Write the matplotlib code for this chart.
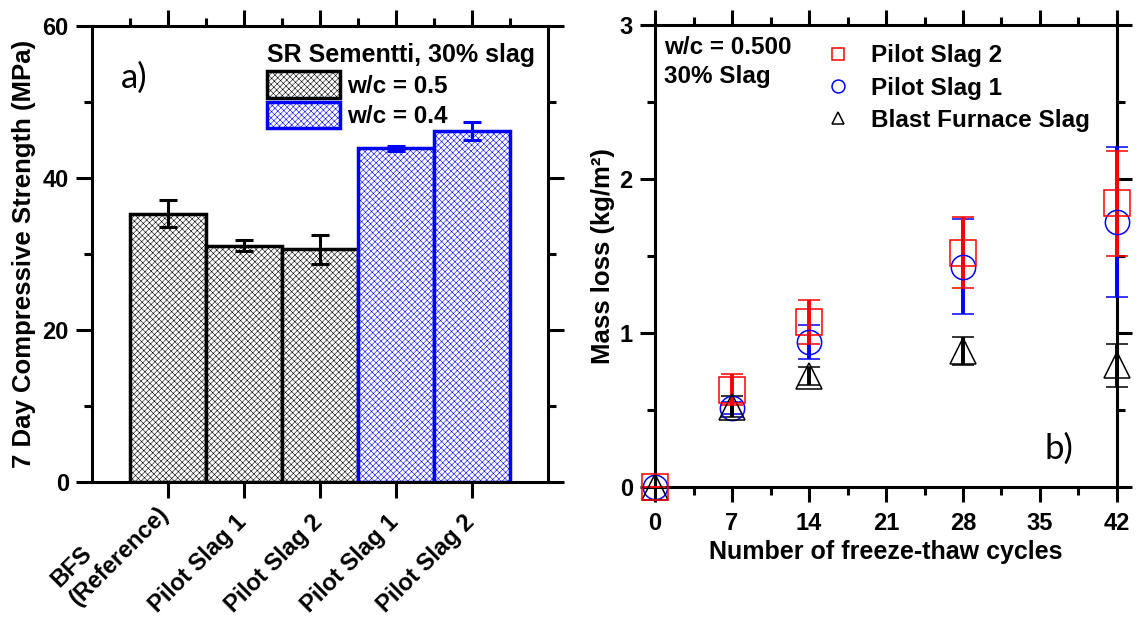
import matplotlib
matplotlib.use("Agg")
import matplotlib.pyplot as plt
import numpy as np
from matplotlib.patches import Patch
from matplotlib.lines import Line2D
from matplotlib.transforms import ScaledTranslation

plt.rcParams["font.family"] = ["Liberation Sans", "DejaVu Sans"]
plt.rcParams["font.weight"] = "bold"
plt.rcParams["axes.labelweight"] = "bold"
plt.rcParams["hatch.linewidth"] = 0.4

# ---- panel a) data ----
bar_labels = ["BFS\n(Reference)", "Pilot Slag 1", "Pilot Slag 2", "Pilot Slag 1", "Pilot Slag 2"]
strength = [35.3, 31.1, 30.6, 43.9, 46.2]
strength_err = [1.8, 0.7, 1.9, 0.3, 1.2]
wc_group = ["0.5", "0.5", "0.5", "0.4", "0.4"]

# ---- panel b) data ----
cycles = [0, 7, 14, 28, 42]
slag2_loss = [0.0, 0.63, 1.07, 1.52, 1.84]
slag2_err = [0.0, 0.10, 0.14, 0.23, 0.34]
slag1_loss = [0.0, 0.51, 0.94, 1.43, 1.72]
slag1_err = [0.0, 0.04, 0.11, 0.31, 0.49]
bfs_loss = [0.0, 0.52, 0.72, 0.88, 0.79]
bfs_err = [0.0, 0.07, 0.06, 0.09, 0.14]

group_color = {"0.5": "black", "0.4": "#0000ff"}
HATCH = "//////\\\\\\\\\\"
LW = 2.2

fig = plt.figure(figsize=(11.37, 6.18), dpi=100)
ax1 = fig.add_axes([0.0807, 0.2201, 0.4011, 0.7379])
ax2 = fig.add_axes([0.5761, 0.2125, 0.4063, 0.7471])


def style_axes(ax):
    for sp in ax.spines.values():
        sp.set_linewidth(LW)
    ax.tick_params(which="both", direction="out", width=LW,
                   top=True, right=True, labelsize=17)
    ax.tick_params(which="major", length=11.5)
    ax.tick_params(which="minor", length=6)
    ax.tick_params(axis="y", which="major", pad=5)


# ---------- a) ----------
x = np.arange(1, len(strength) + 1)
for xi, h, e, g in zip(x, strength, strength_err, wc_group):
    c = group_color[g]
    ax1.bar(xi, h, width=1.0, facecolor="white", edgecolor=c, hatch=HATCH,
            linewidth=2.5, zorder=2)
    ax1.errorbar(xi, h, yerr=e, color=c, elinewidth=LW, capsize=6.5,
                 capthick=LW, fmt="none", zorder=3)

ax1.set_xlim(0, 6)
ax1.set_ylim(0, 60)
ax1.set_yticks([0, 20, 40, 60])
ax1.set_yticks([10, 30, 50], minor=True)
ax1.set_xticks(x)
ax1.set_xticks(np.arange(0.5, 6.0, 0.5), minor=True)
style_axes(ax1)
ax1.tick_params(axis="x", which="minor", bottom=False)
ax1.tick_params(axis="x", which="major", pad=9)
ax1.set_xticklabels(bar_labels, rotation=45, ha="right", va="top",
                    fontsize=17, multialignment="left")
# two-line label sits higher so its last line ends where the others do
label_shift = [(0.06, 0.27), (0.07, 0), (0.07, 0), (0.07, 0), (0.07, 0)]
for lab, (dx, dy) in zip(ax1.get_xticklabels(), label_shift):
    lab.set_transform(lab.get_transform() + ScaledTranslation(dx, dy, fig.dpi_scale_trans))
ax1.set_ylabel("7 Day Compressive Strength (MPa)", fontsize=18.5, labelpad=5)

handles_a = [
    Patch(facecolor="white", edgecolor="black", hatch=HATCH, linewidth=2.5, label="w/c = 0.5"),
    Patch(facecolor="white", edgecolor="#0000ff", hatch=HATCH, linewidth=2.5, label="w/c = 0.4"),
]
ax1.legend(handles=handles_a, title="SR Sementti, 30% slag", loc="upper left",
           bbox_to_anchor=(0.384, 0.962), frameon=False, fontsize=17.5,
           title_fontproperties={"weight": "bold", "size": 18},
           handlelength=3.0, handleheight=1.3, handletextpad=0.3,
           labelspacing=0.16, borderaxespad=0, borderpad=0, alignment="left")
ax1.text(0.064, 0.886, "a)", transform=ax1.transAxes, fontsize=25,
         fontweight="normal", family=["Lato", "DejaVu Sans"], va="center")

# ---------- b) ----------
series = [
    ("Pilot Slag 1", slag1_loss, slag1_err, "#0000ff", "o", 17.5),
    ("Blast Furnace Slag", bfs_loss, bfs_err, "black", "^", 19),
    ("Pilot Slag 2", slag2_loss, slag2_err, "#ff0000", "s", 18.5),
]
for name, y, e, c, m, ms in series:
    ax2.errorbar(cycles, y, yerr=e, fmt=m, color=c, ms=ms, mfc="none", mec=c, mew=1.1,
                 elinewidth=2.8, capsize=8, capthick=2.8, clip_on=False, zorder=3)

ax2.set_xlim(0, 42)
ax2.set_ylim(0, 3)
ax2.set_xticks(np.arange(0, 43, 7))
ax2.set_xticks(np.arange(3.5, 42, 7), minor=True)
ax2.set_yticks([0, 1, 2, 3])
ax2.set_yticks([0.5, 1.5, 2.5], minor=True)
style_axes(ax2)
ax2.tick_params(which="major", length=11)
ax2.tick_params(which="minor", length=5.5)
ax2.tick_params(axis="x", which="major", pad=7)
ax2.set_xlabel("Number of freeze-thaw cycles", fontsize=18, labelpad=4)
ax2.set_ylabel("Mass loss (kg/m²)", fontsize=18.5, labelpad=3.5)

handles_b = [
    Line2D([], [], ls="none", marker="s", ms=9.3, mfc="none", mec="#ff0000", mew=1.1, label="Pilot Slag 2"),
    Line2D([], [], ls="none", marker="o", ms=9.3, mfc="none", mec="#0000ff", mew=1.1, label="Pilot Slag 1"),
    Line2D([], [], ls="none", marker="^", ms=9.3, mfc="none", mec="black", mew=1.1, label="Blast Furnace Slag"),
]
ax2.legend(handles=handles_b, loc="upper left", frameon=False, fontsize=17.5,
           bbox_to_anchor=(0.37, 0.958), handlelength=1.0, handletextpad=0.86,
           labelspacing=0.38, borderaxespad=0, borderpad=0)
ax2.text(0.0195, 0.976, "w/c = 0.500\n30% Slag", transform=ax2.transAxes,
         fontsize=17.5, va="top", ha="left", linespacing=1.35)
ax2.text(0.844, 0.082, "b)", transform=ax2.transAxes, fontsize=25,
         fontweight="normal", family=["Lato", "DejaVu Sans"], va="center")

fig.savefig("out.png", dpi=100)
